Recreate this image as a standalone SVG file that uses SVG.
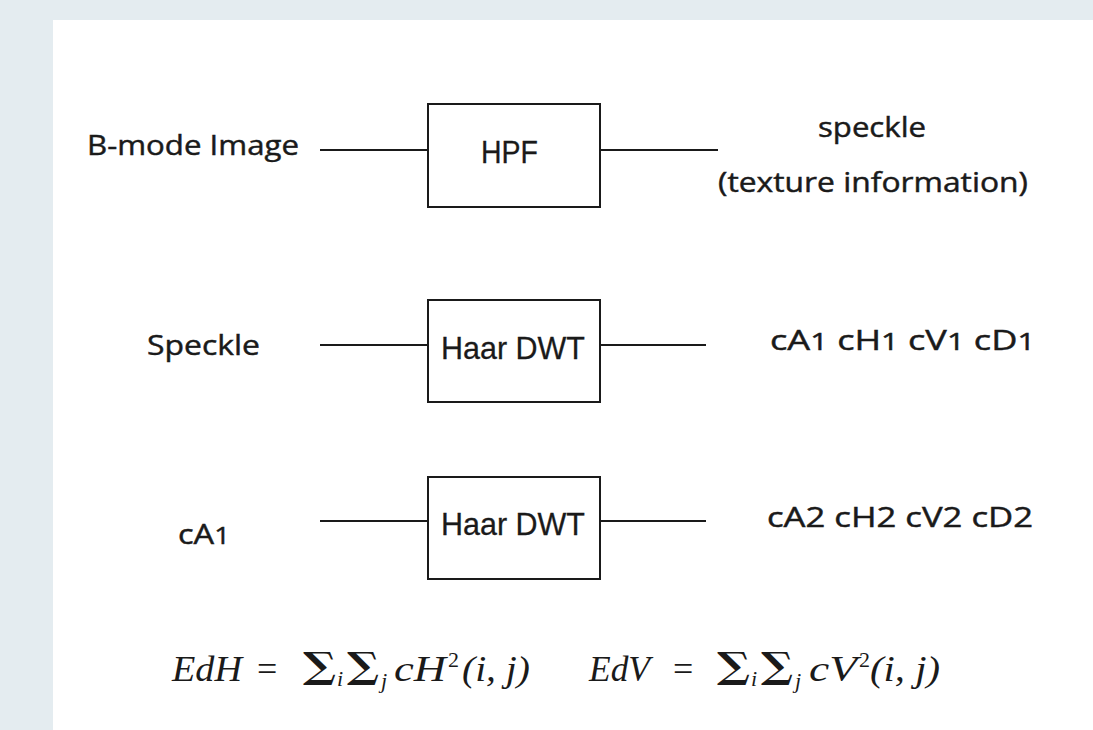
<svg xmlns="http://www.w3.org/2000/svg" width="1093" height="730" viewBox="0 0 1093 730">
  <style>
    .lbl { font-family: "Open Sans", "Liberation Sans", sans-serif; font-size: 27px; fill: #1a1a1a; stroke: #1a1a1a; stroke-width: 0.45; }
    .dig { font-size: 23px; }
    .boxlbl { font-family: "Liberation Sans", Arial, sans-serif; font-size: 32px; fill: #1a1a1a; stroke: #1a1a1a; stroke-width: 0.3; }
    .box { fill: #ffffff; stroke: #1a1a1a; stroke-width: 2; }
    .wire { stroke: #1a1a1a; stroke-width: 2; fill: none; }
    .math { font-family: "Liberation Serif", "DejaVu Serif", serif; font-style: italic; font-size: 36px; fill: #1a1a1a; }
    .up { font-family: "Liberation Serif", "DejaVu Serif", serif; font-size: 36px; fill: #1a1a1a; }
    .sum { font-family: "DejaVu Serif", serif; font-weight: bold; font-size: 36px; fill: #1a1a1a; }
    .sub { font-family: "Liberation Serif", "DejaVu Serif", serif; font-size: 22px; fill: #1a1a1a; }
    .subi { font-family: "Liberation Serif", "DejaVu Serif", serif; font-style: italic; font-size: 22px; fill: #1a1a1a; }
  </style>

  <!-- page backdrop and white sheet -->
  <rect x="0" y="0" width="1093" height="730" fill="#e4ecf0"/>
  <rect x="53" y="20" width="1040" height="710" fill="#ffffff"/>

  <!-- connectors -->
  <g id="connectors">
    <line class="wire" x1="320" y1="150" x2="428" y2="150"/>
    <line class="wire" x1="600" y1="150" x2="718" y2="150"/>
    <line class="wire" x1="320" y1="345" x2="428" y2="345"/>
    <line class="wire" x1="600" y1="345" x2="706" y2="345"/>
    <line class="wire" x1="320" y1="521" x2="428" y2="521"/>
    <line class="wire" x1="600" y1="521" x2="706" y2="521"/>
  </g>

  <!-- row 1: high-pass filter -->
  <g id="input-bmode">
    <text class="lbl" x="87" y="155" textLength="212" lengthAdjust="spacingAndGlyphs">B-mode Image</text>
  </g>
  <g id="hpf">
    <rect class="box" x="428" y="104" width="172" height="103"/>
    <text class="boxlbl" x="481" y="163" textLength="57" lengthAdjust="spacingAndGlyphs">HPF</text>
  </g>
  <g id="output-speckle">
    <text class="lbl" x="872" y="137" text-anchor="middle" textLength="108" lengthAdjust="spacingAndGlyphs">speckle</text>
    <text class="lbl" x="873" y="192" text-anchor="middle" textLength="310" lengthAdjust="spacingAndGlyphs">(texture information)</text>
  </g>

  <!-- row 2: first wavelet level -->
  <g id="input-speckle">
    <text class="lbl" x="147" y="355" textLength="113" lengthAdjust="spacingAndGlyphs">Speckle</text>
  </g>
  <g id="dwt1">
    <rect class="box" x="428" y="300" width="172" height="102"/>
    <text class="boxlbl" x="441" y="359" textLength="144" lengthAdjust="spacingAndGlyphs">Haar DWT</text>
  </g>
  <g id="output-level1">
    <text class="lbl" x="770" y="350" textLength="265" lengthAdjust="spacingAndGlyphs">cA<tspan class="dig">1</tspan>  cH<tspan class="dig">1</tspan>  cV<tspan class="dig">1</tspan>  cD<tspan class="dig">1</tspan></text>
  </g>

  <!-- row 3: second wavelet level -->
  <g id="input-ca1">
    <text class="lbl" x="178" y="544" textLength="52" lengthAdjust="spacingAndGlyphs">cA<tspan class="dig">1</tspan></text>
  </g>
  <g id="dwt2">
    <rect class="box" x="428" y="477" width="172" height="102"/>
    <text class="boxlbl" x="441" y="535" textLength="144" lengthAdjust="spacingAndGlyphs">Haar DWT</text>
  </g>
  <g id="output-level2">
    <text class="lbl" x="767" y="527" textLength="266" lengthAdjust="spacingAndGlyphs">cA2  cH2  cV2  cD2</text>
  </g>

  <!-- energy formulas -->
  <g id="energy-h">
    <text class="math" x="172" y="681" textLength="70" lengthAdjust="spacingAndGlyphs">EdH</text>
    <text class="up" x="257" y="681">=</text>
    <text class="sum" x="303" y="678" textLength="33" lengthAdjust="spacingAndGlyphs">∑</text>
    <text class="subi" x="337" y="686">i</text>
    <text class="sum" x="347" y="678" textLength="32" lengthAdjust="spacingAndGlyphs">∑</text>
    <text class="subi" x="381" y="688">j</text>
    <text class="math" x="394" y="681" textLength="52" lengthAdjust="spacingAndGlyphs">cH</text>
    <text class="sub" x="448" y="667">2</text>
    <text class="math" x="462" y="681" textLength="68" lengthAdjust="spacingAndGlyphs">(i, j)</text>
  </g>
  <g id="energy-v">
    <text class="math" x="589" y="681" textLength="61" lengthAdjust="spacingAndGlyphs">EdV</text>
    <text class="up" x="673" y="681">=</text>
    <text class="sum" x="717" y="678" textLength="33" lengthAdjust="spacingAndGlyphs">∑</text>
    <text class="subi" x="751" y="686">i</text>
    <text class="sum" x="761" y="678" textLength="32" lengthAdjust="spacingAndGlyphs">∑</text>
    <text class="subi" x="795" y="688">j</text>
    <text class="math" x="809" y="681" textLength="48" lengthAdjust="spacingAndGlyphs">cV</text>
    <text class="sub" x="859" y="667">2</text>
    <text class="math" x="870" y="681" textLength="70" lengthAdjust="spacingAndGlyphs">(i, j)</text>
  </g>
</svg>
